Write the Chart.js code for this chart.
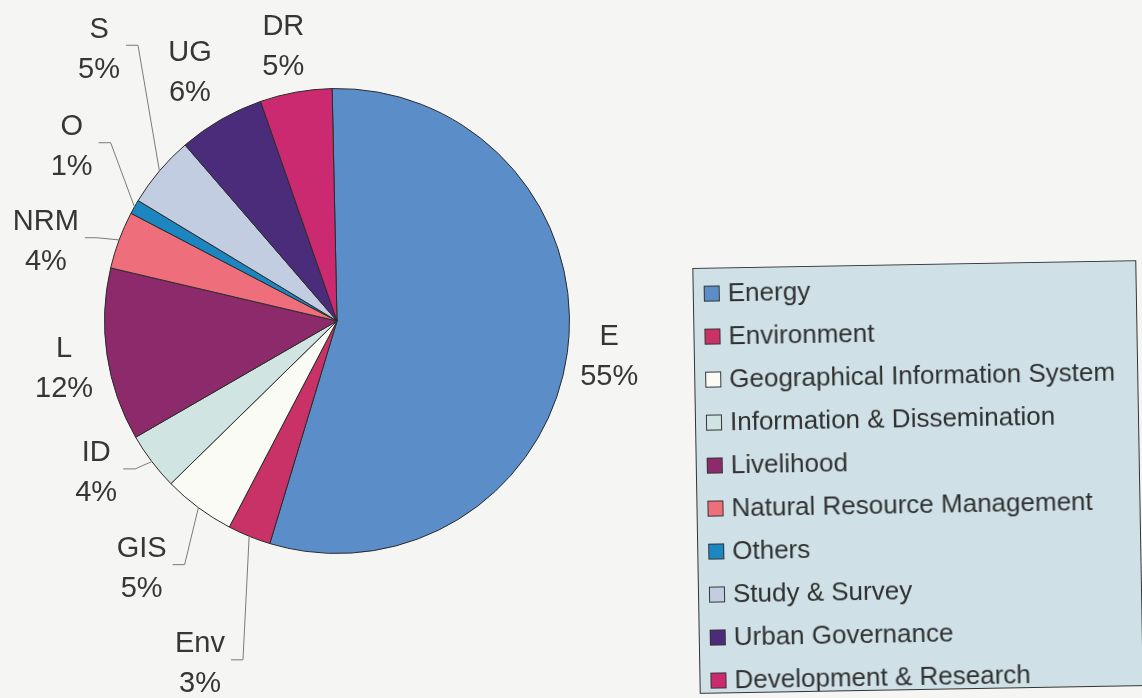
<!DOCTYPE html>
<html>
<head>
<meta charset="utf-8">
<title>Projects by sector</title>
<script src="https://cdn.jsdelivr.net/npm/chart.js@4/dist/chart.umd.min.js"></script>
<style>
  html, body { margin: 0; padding: 0; }
  body {
    width: 1142px; height: 698px; overflow: hidden; position: relative;
    background: #f5f5f3;
    font-family: "Liberation Sans", Arial, sans-serif;
  }
  #sectorChart { position: absolute; left: 0; top: 0; }
  #legend {
    position: absolute; left: 696px; top: 264px; width: 444px; height: 426px;
    box-sizing: border-box; padding-top: 3px;
    border: 1.5px solid #333; background: #cfe1e7;
    transform: rotate(-1deg);
  }
  .item { height: 43px; display: flex; align-items: center; font-size: 26px; color: #303030; white-space: nowrap; }
  .swatch { width: 14px; height: 14px; border: 1px solid #333; margin: 0 8px 0 10px; flex: none; }
</style>
</head>
<body>
<canvas id="sectorChart" width="1142" height="698"></canvas>
<div id="legend"></div>

<script>
const categories = [
    'Energy',
    'Environment',
    'Geographical Information System',
    'Information & Dissemination',
    'Livelihood',
    'Natural Resource Management',
    'Others',
    'Study & Survey',
    'Urban Governance',
    'Development & Research'
];
const shortLabels = ['E', 'Env', 'GIS', 'ID', 'L', 'NRM', 'O', 'S', 'UG', 'DR'];
const shares = [55, 3, 5, 4, 12, 4, 1, 5, 6, 5];
const sliceColors = [
    '#5b8ec9', '#c83266', '#fbfbf6', '#d0e5e1', '#8c2a6c',
    '#ee6e7c', '#1b86c0', '#c3cde2', '#4b2c7a', '#cc2a70'
];

// where each label sits: distance as a multiple of the radius, angle nudge in degrees
const labelPlacement = {
    radius: [1.18, 1.58, 1.35, 1.22, 1.19, 1.30, 1.37, 1.56, 1.25, 1.21],
    shift: [-0.7, -0.3, 1.9, 5.3, -1.0, -4.8, 4.2, 8.8, -0.4, -0.8],
    leader: [false, true, true, true, false, true, true, true, false, false]
};

const sliceLabels = {
    id: 'sliceLabels',
    afterDatasetsDraw(chart, args, opts) {
        const c = chart.ctx;
        const arcs = chart.getDatasetMeta(0).data;
        c.save();
        c.font = '29px "Liberation Sans", Arial, sans-serif';
        c.fillStyle = '#363636';
        c.textAlign = 'center';
        c.textBaseline = 'alphabetic';
        arcs.forEach((arc, i) => {
            const mid = (arc.startAngle + arc.endAngle) / 2;
            const a = mid + opts.shift[i] * Math.PI / 180;
            const r = arc.outerRadius;
            const cx = arc.x + Math.cos(a) * r * opts.radius[i];
            const cy = arc.y + Math.sin(a) * r * opts.radius[i];
            const lines = [shortLabels[i], chart.data.datasets[0].data[i] + '%'];

            if (opts.leader[i]) {
                const w = Math.max(...lines.map(t => c.measureText(t).width));
                const right = cx + w / 2;
                c.beginPath();
                c.moveTo(arc.x + Math.cos(mid) * r, arc.y + Math.sin(mid) * r);
                c.lineTo(right + 18, cy - 2);
                c.lineTo(right + 6, cy - 2);
                c.strokeStyle = '#7a7a7a';
                c.lineWidth = 1;
                c.stroke();
            }
            // baseline offset puts the cap height centred on each line
            c.fillText(lines[0], cx, cy - 20 + 10.4);
            c.fillText(lines[1], cx, cy + 20 + 10.4);
        });
        c.restore();
    }
};

const sectorChart = new Chart(document.getElementById('sectorChart'), {
    type: 'pie',
    data: {
        labels: categories,
        datasets: [{
            data: shares,
            backgroundColor: sliceColors,
            borderColor: '#2b2b2b',
            borderWidth: 1
        }]
    },
    options: {
        responsive: false,
        animation: false,
        events: [],
        rotation: -1.2,
        layout: {
            padding: { left: 104, right: 572, top: 88, bottom: 144 }
        },
        plugins: {
            legend: { display: false },
            tooltip: { enabled: false },
            sliceLabels: labelPlacement
        }
    },
    plugins: [sliceLabels]
});

const legend = document.getElementById('legend');
categories.forEach((name, i) => {
    const row = document.createElement('div');
    row.className = 'item';
    const sw = document.createElement('span');
    sw.className = 'swatch';
    sw.style.background = sliceColors[i];
    row.appendChild(sw);
    row.appendChild(document.createTextNode(name));
    legend.appendChild(row);
});
</script>
</body>
</html>
